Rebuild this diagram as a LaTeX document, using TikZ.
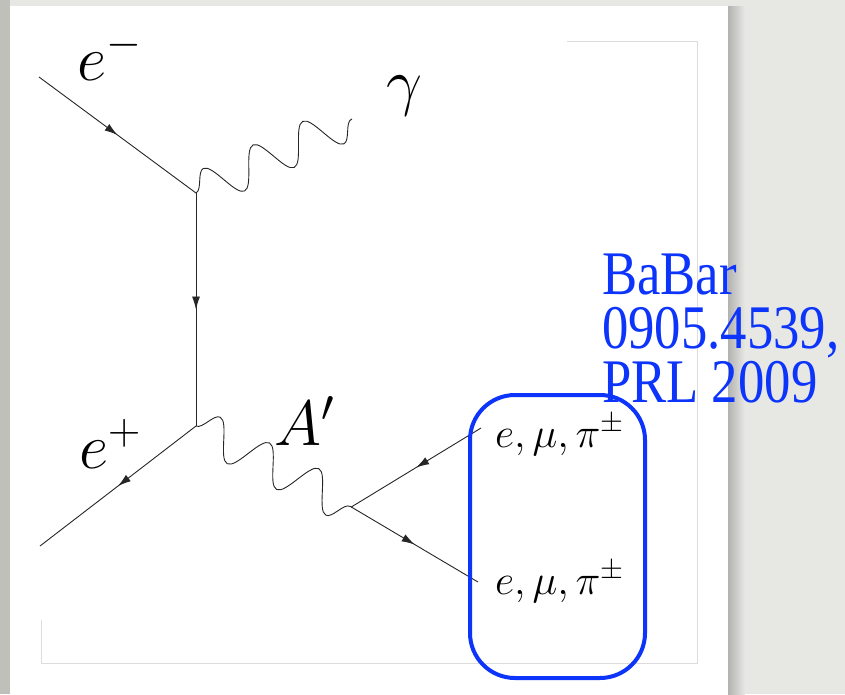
\RequirePackage{fix-cm}
\documentclass[tikz,border=0pt]{standalone}
\usepackage{fontspec}
\newfontfamily\babarfont[FakeStretch=0.85]{Liberation Serif}
\usetikzlibrary{arrows.meta, decorations.pathmorphing, decorations.markings}
\definecolor{BaBarBlue}{RGB}{12, 52, 250}
\definecolor{SlideGray}{RGB}{231, 231, 227}
\definecolor{SlideEdge}{RGB}{192, 192, 187}
\definecolor{FrameGray}{RGB}{220, 220, 220}

\begin{document}
\begin{tikzpicture}[
    x=1pt, y=-1pt,
    fermion/.style={line width=0.9pt, color=black!85, postaction={decorate},
      decoration={markings, mark=at position #1 with {\arrow{Latex[length=13pt, width=8pt]}}}},
    fermion/.default=0.5,
    photon/.style={line width=0.9pt, color=black!85, decorate,
      decoration={snake, segment length=#1, amplitude=19pt}},
    lbl/.style={inner sep=0pt, anchor=base west, font=\fontsize{64}{64}\selectfont},
    outstate/.style={inner sep=0pt, anchor=base west, font=\fontsize{42}{42}\selectfont},
    babarref/.style={inner sep=0pt, anchor=north west, align=left, text=BaBarBlue,
      font=\babarfont\fontsize{62}{54}\selectfont},
    babarbox/.style={draw=BaBarBlue, line width=4pt, rounded corners=45pt,
      minimum width=175pt, minimum height=283pt, inner sep=0pt}
  ]
    \useasboundingbox (0,0) rectangle (845,694);
    % slide background
    \fill[SlideGray] (0,0) rectangle (845,694);
    \fill[SlideEdge] (0,0) rectangle (10,694);
    \shade[left color=black!30, right color=SlideGray] (728,6) rectangle (745,694);
    \fill[white] (10,6) rectangle (728,694);
    \draw[FrameGray, line width=1pt] (567,41) -- (697,41) -- (697,663) -- (41,663) -- (41,620);

    % vertices and free ends
    \coordinate (em) at (39,77);
    \coordinate (v1) at (196,193);
    \coordinate (gend) at (352,119);
    \coordinate (v2) at (196,426);
    \coordinate (ep) at (40,546);
    \coordinate (v3) at (351.3,507);
    \coordinate (f1) at (481,428);
    \coordinate (f2) at (478,582);

    \draw[fermion] (em) -- (v1);
    \draw[photon=55pt] (v1) -- (gend);
    \draw[fermion] (v1) -- (v2);
    \draw[fermion] (v2) -- (ep);
    \draw[photon=55.6pt] (v2) -- (v3);
    \draw[fermion] (f1) -- (v3);
    \draw[fermion] (v3) -- (f2);

    \node[lbl] (eminus) at (77,80) {$e^-$};
    \node[lbl] (gamma) at (386,103) {$\gamma$};
    \node[lbl] (eplus) at (79,468) {$e^+$};
    \node[lbl] (aprime) at (274,445) {$A'$};
    \node[outstate] (upper) at (495,447) {$e, \mu, \pi^{\pm}$};
    \node[outstate] (lower) at (495,594) {$e, \mu, \pi^{\pm}$};

    \node[babarbox] (box) at (557.5,536.5) {};
    \node[babarref] (babar) at (602,253.5) {BaBar\\0905.4539,\\PRL 2009};
  \end{tikzpicture}
\end{document}
